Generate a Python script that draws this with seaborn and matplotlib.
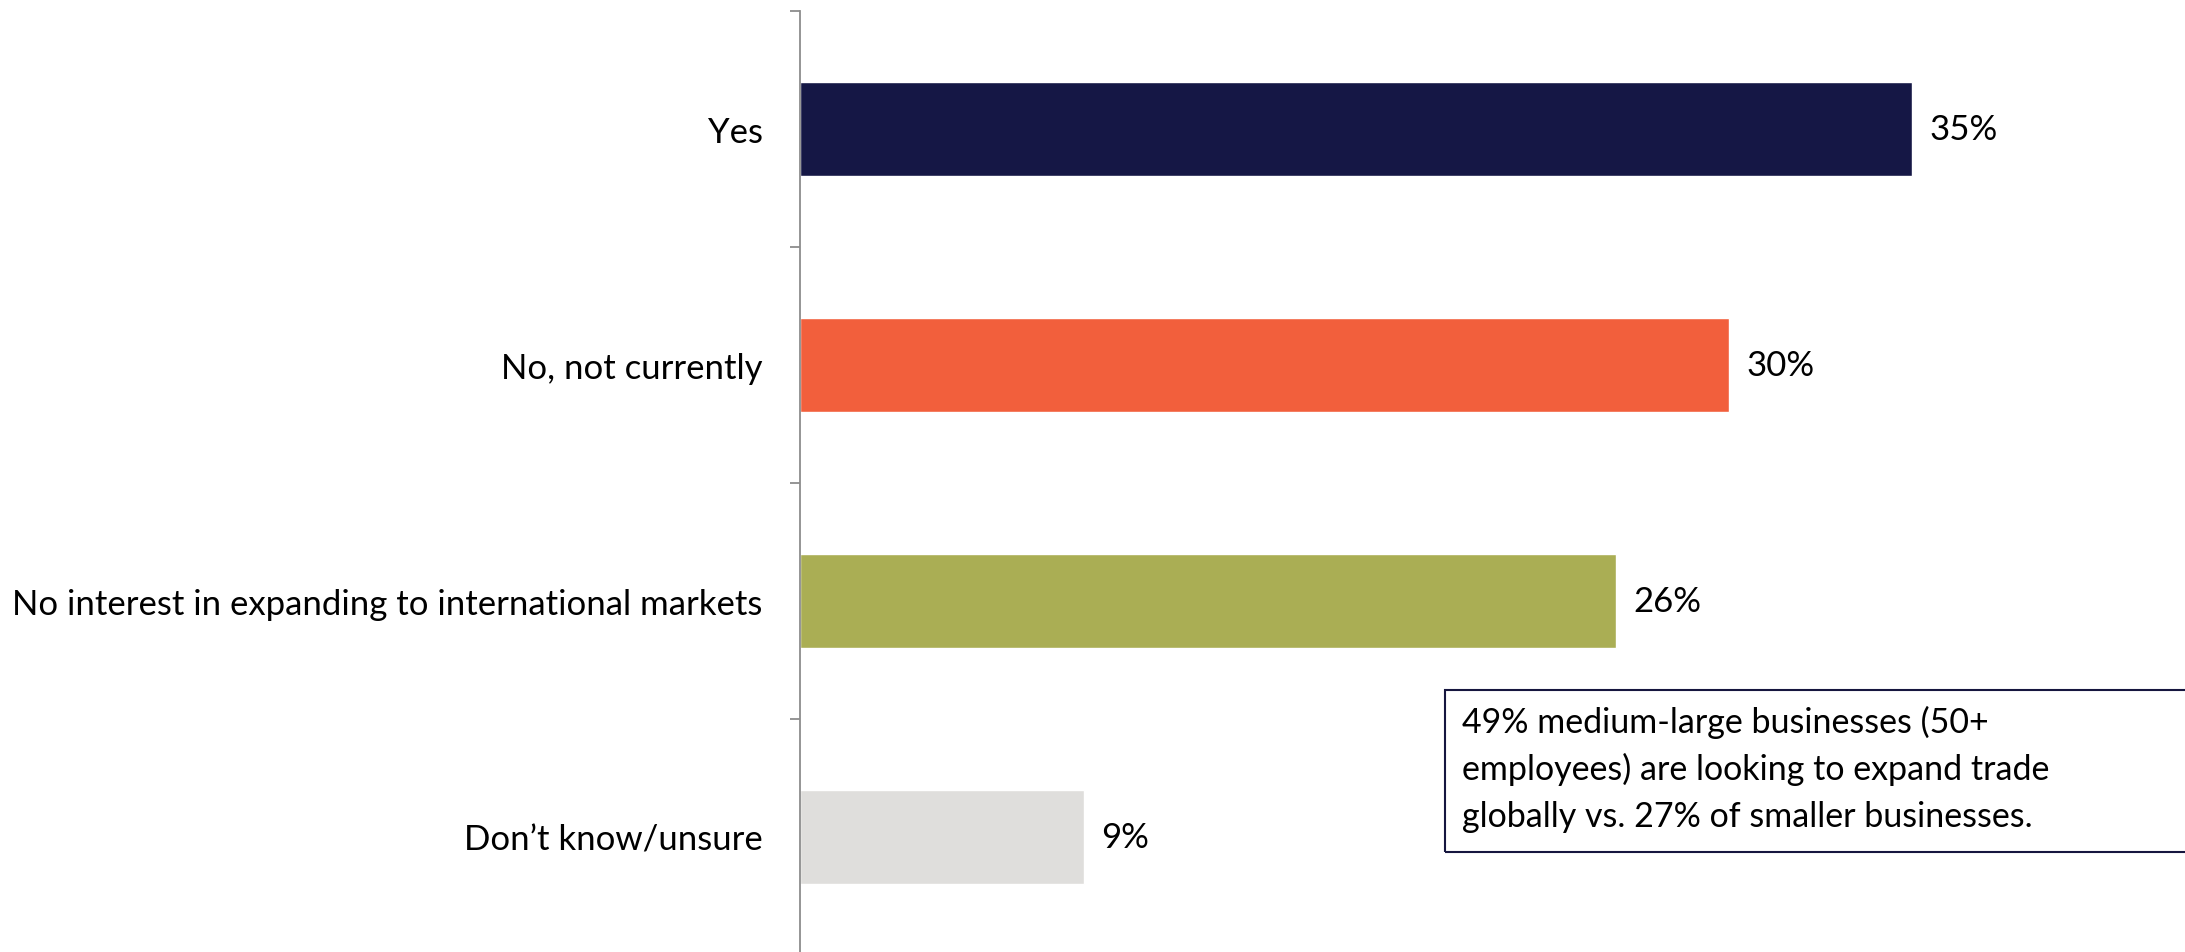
import matplotlib
matplotlib.use("Agg")
import matplotlib.pyplot as plt
from matplotlib.patches import Rectangle
import seaborn as sns
import pandas as pd

# Survey answers and shares (%)
categories = ["Yes", "No, not currently",
              "No interest in expanding to international markets",
              "Don\u2019t know/unsure"]
shares = [35.3, 29.5, 25.9, 9.0]
bar_colors = ["#151745", "#F25F3C", "#AAAE54", "#DFDEDC"]
note_lines = ["49% medium-large businesses (50+",
              "employees) are looking to expand trade",
              "globally vs. 27% of smaller businesses."]

sns.set_theme(style="white")
plt.rcParams["font.family"] = ["Lato", "DejaVu Sans"]

W, H, DPI = 2185, 953, 100
fig = plt.figure(figsize=(W / DPI, H / DPI), dpi=DPI)
ax = fig.add_axes([800 / W, -3 / H, 1260 / W, 944 / H])

df = pd.DataFrame({"answer": categories, "share": shares})
sns.barplot(data=df, y="answer", x="share", hue="answer",
            palette=bar_colors, orient="h", width=0.4,
            legend=False, saturation=1, ax=ax)

ax.set_xlim(0, 40)
ax.set_ylim(3.5, -0.5)
ax.set_xlabel("")
ax.set_ylabel("")
ax.set_xticks([])

for s in ["top", "right", "bottom"]:
    ax.spines[s].set_visible(False)
ax.spines["left"].set_color("#8C8C8C")
ax.spines["left"].set_linewidth(1.3)

# category labels centred on bars, tick marks between categories
ax.set_yticks(range(len(categories)))
ax.set_yticklabels(categories, fontsize=25, color="#000000")
ax.tick_params(axis="y", which="major", length=0, pad=27)
ax.set_yticks([i - 0.5 for i in range(len(categories) + 1)], minor=True)
ax.tick_params(axis="y", which="minor", length=7, width=1.3,
               color="#8C8C8C", left=True)

for i, v in enumerate(shares):
    ax.text(v + 0.55, i, f"{v:.0f}%", va="center", ha="left",
            fontsize=25, color="#000000")

# call-out box
box = Rectangle((1445 / W, 1 - 853 / H), (2200 - 1445) / W, (853 - 691) / H,
                transform=fig.transFigure, fill=False,
                edgecolor="#16163F", linewidth=1.5)
fig.patches.append(box)
for k, line in enumerate(note_lines):
    fig.text(1462 / W, 1 - (733 + 47 * k) / H, line, fontsize=24.5,
             ha="left", va="baseline", color="#000000")

fig.savefig("out.png", dpi=DPI, facecolor="white")
